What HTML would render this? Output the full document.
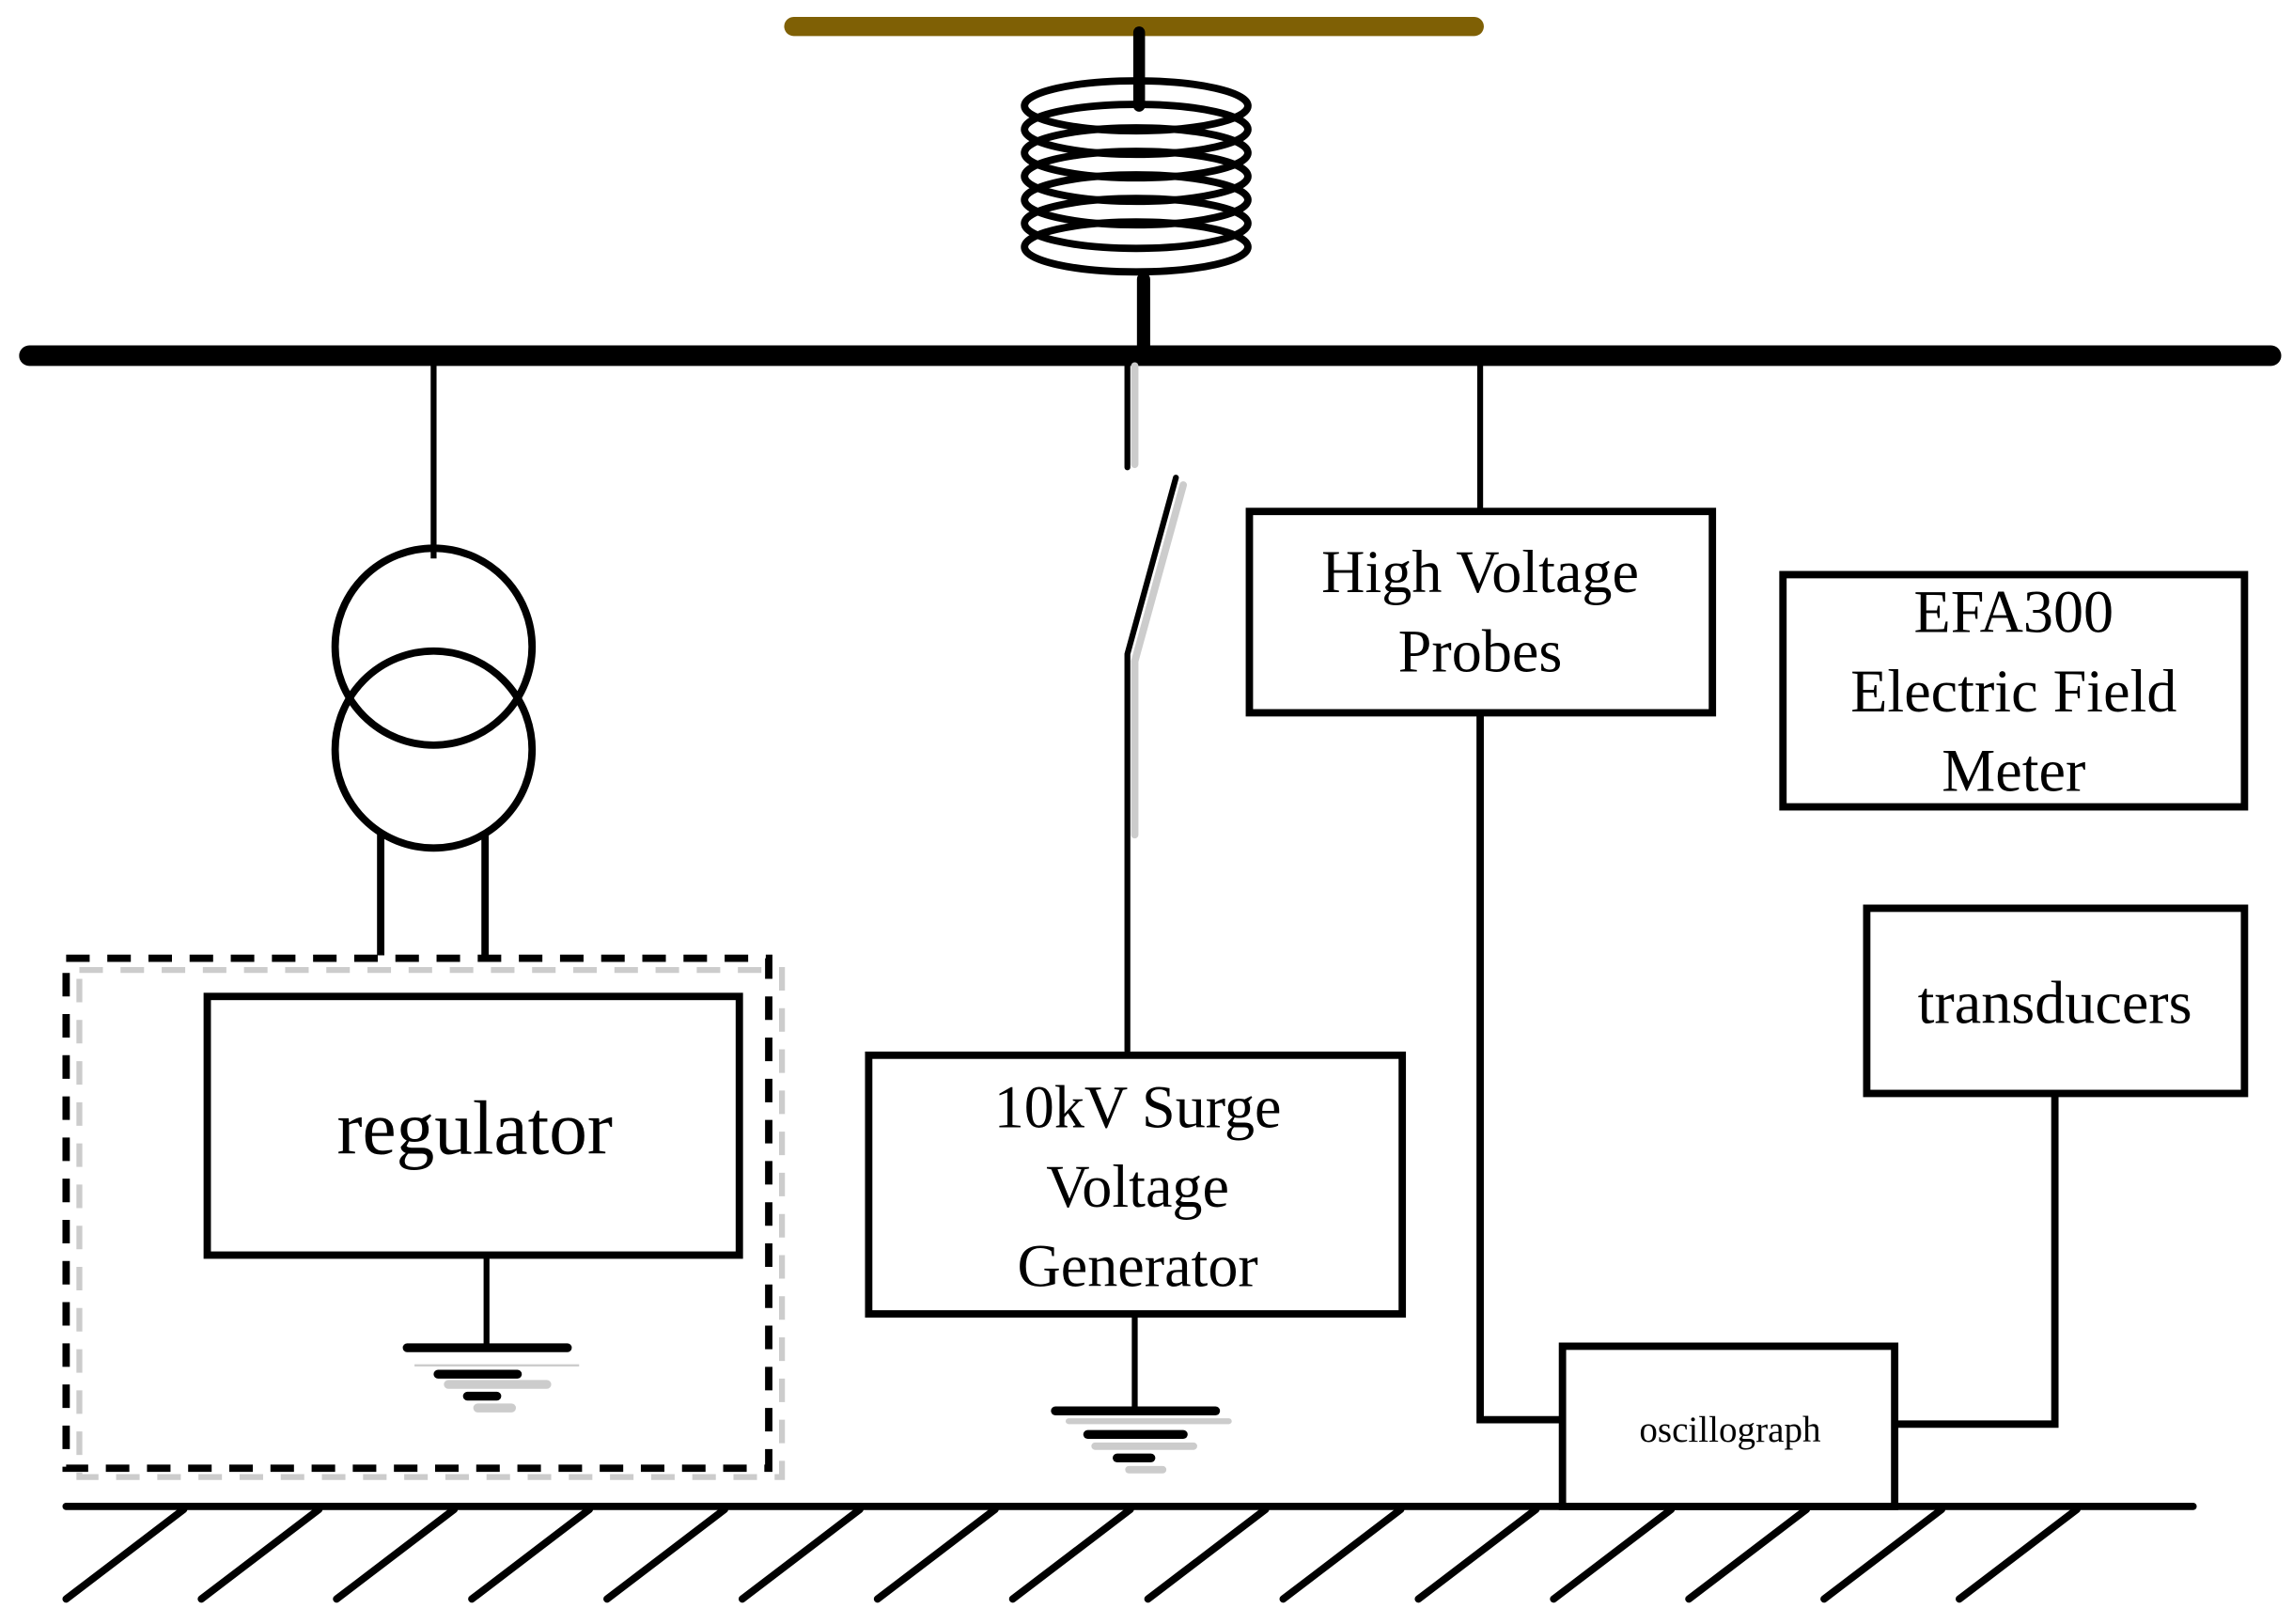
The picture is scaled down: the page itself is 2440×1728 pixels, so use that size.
<!DOCTYPE html>
<html><head><meta charset="utf-8"><style>html,body{margin:0;padding:0;background:#fff}svg{display:block}</style></head>
<body>
<svg width="2440" height="1728" viewBox="0 0 1560 1105" preserveAspectRatio="none" xmlns="http://www.w3.org/2000/svg" font-family="'Liberation Serif', serif">
<rect width="1560" height="1105" fill="#fff"/>
<line x1="540" y1="18" x2="1003" y2="18" stroke="#7f6005" stroke-width="13" stroke-linecap="round"/>
<line x1="775" y1="22" x2="775" y2="72" stroke="#000" stroke-width="8" stroke-linecap="round"/>
<g fill="none" stroke="#000" stroke-width="5">
<ellipse cx="773" cy="72" rx="76" ry="17"/>
<ellipse cx="773" cy="88" rx="76" ry="17"/>
<ellipse cx="773" cy="104" rx="76" ry="17"/>
<ellipse cx="773" cy="120" rx="76" ry="17"/>
<ellipse cx="773" cy="136" rx="76" ry="17"/>
<ellipse cx="773" cy="152" rx="76" ry="17"/>
<ellipse cx="773" cy="168" rx="76" ry="17"/>
</g>
<line x1="778" y1="190" x2="778" y2="236" stroke="#000" stroke-width="9" stroke-linecap="round"/>
<line x1="20" y1="242" x2="1545" y2="242" stroke="#000" stroke-width="14" stroke-linecap="round"/>
<line x1="295" y1="242" x2="295" y2="380" stroke="#000" stroke-width="4"/>
<circle cx="295" cy="440" r="67" fill="none" stroke="#000" stroke-width="5"/>
<circle cx="295" cy="510" r="67" fill="none" stroke="#000" stroke-width="5"/>
<line x1="259" y1="566" x2="259" y2="650" stroke="#000" stroke-width="5"/>
<line x1="330" y1="566" x2="330" y2="650" stroke="#000" stroke-width="5"/>
<rect x="54" y="660" width="478" height="345" fill="none" stroke="#ccc" stroke-width="4" stroke-dasharray="16 12"/>
<rect x="45" y="652" width="478" height="347" fill="none" stroke="#000" stroke-width="5" stroke-dasharray="16 12"/>
<rect x="141" y="678" width="362" height="176" fill="none" stroke="#000" stroke-width="5"/>
<text x="323" y="785" font-size="52" text-anchor="middle">regulator</text>
<line x1="331" y1="854" x2="331" y2="917" stroke="#000" stroke-width="4"/>
<line x1="277" y1="917" x2="386" y2="917" stroke="#000" stroke-width="6" stroke-linecap="round"/>
<line x1="282" y1="929" x2="394" y2="929" stroke="#ccc" stroke-width="1.5"/>
<line x1="298" y1="935" x2="352" y2="935" stroke="#000" stroke-width="6" stroke-linecap="round"/>
<line x1="305" y1="942" x2="372" y2="942" stroke="#ccc" stroke-width="6" stroke-linecap="round"/>
<line x1="318" y1="950" x2="338" y2="950" stroke="#000" stroke-width="6" stroke-linecap="round"/>
<line x1="325" y1="958" x2="348" y2="958" stroke="#ccc" stroke-width="6" stroke-linecap="round"/>
<line x1="772" y1="249" x2="772" y2="316" stroke="#ccc" stroke-width="5" stroke-linecap="round"/>
<line x1="767" y1="249" x2="767" y2="318" stroke="#000" stroke-width="4" stroke-linecap="round"/>
<polyline points="805,330 772,450 772,568" fill="none" stroke="#ccc" stroke-width="5" stroke-linecap="round"/>
<polyline points="800,325 767,445 767,715" fill="none" stroke="#000" stroke-width="4" stroke-linecap="round"/>
<rect x="591" y="718" width="363" height="176" fill="none" stroke="#000" stroke-width="5"/>
<text x="774" y="767" font-size="41" text-anchor="middle">10kV Surge</text>
<text x="774" y="821" font-size="41" text-anchor="middle">Voltage</text>
<text x="774" y="875" font-size="41" text-anchor="middle">Generator</text>
<line x1="772" y1="894" x2="772" y2="960" stroke="#000" stroke-width="4"/>
<line x1="718" y1="960" x2="827" y2="960" stroke="#000" stroke-width="6" stroke-linecap="round"/>
<line x1="727" y1="967" x2="836" y2="967" stroke="#ccc" stroke-width="4" stroke-linecap="round"/>
<line x1="740" y1="976" x2="805" y2="976" stroke="#000" stroke-width="6" stroke-linecap="round"/>
<line x1="745" y1="984" x2="812" y2="984" stroke="#ccc" stroke-width="5" stroke-linecap="round"/>
<line x1="760" y1="992" x2="783" y2="992" stroke="#000" stroke-width="6" stroke-linecap="round"/>
<line x1="768" y1="1000" x2="791" y2="1000" stroke="#ccc" stroke-width="5" stroke-linecap="round"/>
<line x1="1007" y1="242" x2="1007" y2="348" stroke="#000" stroke-width="4"/>
<rect x="850" y="348" width="315" height="137" fill="none" stroke="#000" stroke-width="5"/>
<text x="1007" y="403" font-size="41" text-anchor="middle">High Voltage</text>
<text x="1007" y="457" font-size="41" text-anchor="middle">Probes</text>
<polyline points="1007,485 1007,966 1063,966" fill="none" stroke="#000" stroke-width="5"/>
<rect x="1213" y="391" width="314" height="158" fill="none" stroke="#000" stroke-width="5"/>
<text x="1370" y="430" font-size="41" text-anchor="middle">EFA300</text>
<text x="1370" y="484" font-size="41" text-anchor="middle">Electric Field</text>
<text x="1370" y="538" font-size="41" text-anchor="middle">Meter</text>
<rect x="1270" y="618" width="257" height="126" fill="none" stroke="#000" stroke-width="5"/>
<text x="1398" y="696" font-size="41" text-anchor="middle">transducers</text>
<polyline points="1398,744 1398,969 1289,969" fill="none" stroke="#000" stroke-width="5"/>
<rect x="1063" y="916" width="226" height="109" fill="none" stroke="#000" stroke-width="5"/>
<text x="1177" y="981" font-size="25" text-anchor="middle">oscillograph</text>
<line x1="45" y1="1025" x2="1492" y2="1025" stroke="#000" stroke-width="5" stroke-linecap="round"/>
<g stroke="#000" stroke-width="5" stroke-linecap="round">
<line x1="45" y1="1088" x2="125" y2="1027"/>
<line x1="137" y1="1088" x2="217" y2="1027"/>
<line x1="229" y1="1088" x2="309" y2="1027"/>
<line x1="321" y1="1088" x2="401" y2="1027"/>
<line x1="413" y1="1088" x2="493" y2="1027"/>
<line x1="505" y1="1088" x2="585" y2="1027"/>
<line x1="597" y1="1088" x2="677" y2="1027"/>
<line x1="689" y1="1088" x2="769" y2="1027"/>
<line x1="781" y1="1088" x2="861" y2="1027"/>
<line x1="873" y1="1088" x2="953" y2="1027"/>
<line x1="965" y1="1088" x2="1045" y2="1027"/>
<line x1="1057" y1="1088" x2="1137" y2="1027"/>
<line x1="1149" y1="1088" x2="1229" y2="1027"/>
<line x1="1241" y1="1088" x2="1321" y2="1027"/>
<line x1="1333" y1="1088" x2="1413" y2="1027"/>
</g>
</svg>
</body></html>
